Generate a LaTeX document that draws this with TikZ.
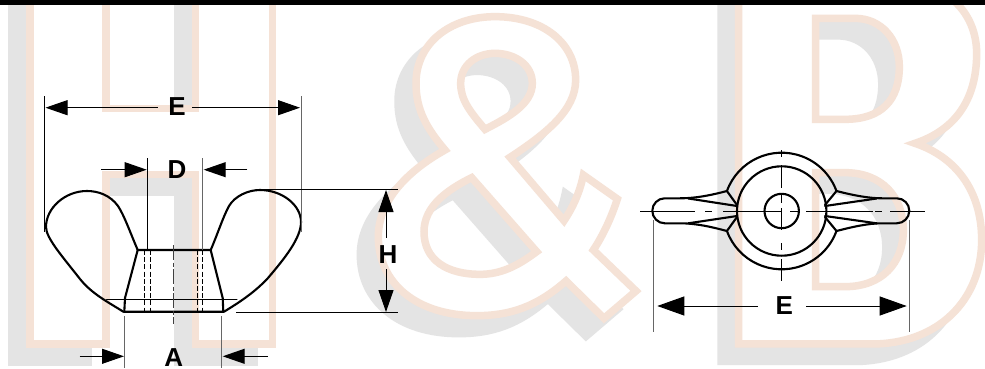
\documentclass[tikz,border=0pt]{standalone}
\usepackage{fontspec}
\setmainfont{Liberation Sans}
\usetikzlibrary{arrows.meta}
\definecolor{wmpeach}{HTML}{F5E2D6}
\definecolor{wmgray}{HTML}{E4E4E4}
\definecolor{extgray}{HTML}{666666}
\def\HOutline{(30,-20) -- (30,344) -- (106,344) -- (106,174.5) -- (195.5,174.5) -- (195.5,344) -- (272.5,344) -- (272.5,-20) -- (195.5,-20) -- (195.5,108.5) -- (106,108.5) -- (106,-20) -- cycle}
\def\AmpOutline{(495,50) .. controls (640,50) and (737,130) .. (737,240) .. controls (737,330) and (650,400) .. (540,472) -- (702,662) .. controls (730,620) and (750,575) .. (760,525) -- (862,597) .. controls (845,650) and (820,705) .. (790,750) -- (918,873) -- (822,955) -- (708,843) .. controls (620,920) and (540,947) .. (440,947) .. controls (260,947) and (145,850) .. (145,710) .. controls (145,610) and (220,520) .. (345,450) .. controls (290,385) and (258,330) .. (258,250) .. controls (258,130) and (360,50) .. (495,50) -- cycle
(465,388) .. controls (420,335) and (392,300) .. (392,250) .. controls (392,195) and (440,160) .. (495,160) .. controls (555,160) and (607,195) .. (607,250) .. controls (607,310) and (540,350) .. (465,388) -- cycle
(425,533) -- (620,755) .. controls (560,800) and (510,823) .. (450,823) .. controls (350,823) and (282,780) .. (282,695) .. controls (282,620) and (350,570) .. (425,533) -- cycle}
\def\BOutline{(251,-60) -- (251,1032) -- (650,1032) .. controls (850,1032) and (980,900) .. (980,720) .. controls (980,570) and (900,470) .. (780,430) .. controls (900,390) and (965,300) .. (965,160) .. controls (965,60) and (900,-60) .. (700,-60) -- cycle
(482,55) -- (600,55) .. controls (680,55) and (733,120) .. (733,200) .. controls (733,300) and (680,358) .. (570,358) -- (482,358) -- cycle
(482,518) -- (570,518) .. controls (680,518) and (745,590) .. (745,690) .. controls (745,790) and (680,860) .. (570,860) -- (482,860) -- cycle}
\tikzset{
  wmshadow/.style={fill=wmgray,draw=wmgray,line width=7.5pt,even odd rule,miter limit=10},
  wmletter/.style={fill=white,draw=wmpeach,line width=7.5pt,even odd rule,miter limit=10},
  part/.style={draw=black,line width=2.1pt,line join=round,line cap=round},
  hiddenline/.style={draw=black,line width=0.9pt,dash pattern=on 5pt off 2.2pt},
  centreline/.style={draw=black,line width=1pt},
  extline/.style={draw=black,line width=1pt},
  extlinegray/.style={draw=extgray,line width=1pt},
  dimarrow/.style={draw=black,line width=1pt,-{Triangle[length=22pt,width=15pt]}},
  bigarrow/.style={draw=black,line width=1pt,-{Triangle[length=27pt,width=19pt]}},
  dimlabel/.style={font=\fontsize{26}{26}\selectfont\bfseries,inner sep=0pt,text=black}
}
\begin{document}
\begin{tikzpicture}[x=1pt,y=-1pt]
\useasboundingbox (0,0) rectangle (985,369);
\fill[white] (0,0) rectangle (985,369);
% watermark: shadows
\begin{scope}
\clip (0,0) rectangle (985,369);
\path[wmshadow,shift={(-18,18)}] \HOutline;
\begin{scope}[shift={(312,18)},scale=1/3]
\path[wmshadow] \AmpOutline;
\end{scope}
\begin{scope}[shift={(637.5,17.5)},scale=1/3]
\path[wmshadow] \BOutline;
\end{scope}
% watermark: letters
\path[wmletter] \HOutline;
\begin{scope}[shift={(330,0)},scale=1/3]
\path[wmletter] \AmpOutline;
\end{scope}
\begin{scope}[shift={(655,0)},scale=1/3]
\path[wmletter] \BOutline;
\end{scope}
\end{scope}
% top bar
\fill[black] (0,0) rectangle (985,4.6);

% ---- side view ----
\path[part] (137.7,250) .. controls (130,232) and (124,215) .. (118,206)
  .. controls (110,195) and (98,191) .. (87,191)
  .. controls (65,191) and (46,208) .. (46,227)
  .. controls (46,238) and (62,256) .. (80,279)
  .. controls (92,294) and (108,302) .. (123.3,311.7)
  -- (224,311.7)
  .. controls (240,302) and (255,292) .. (268,278)
  .. controls (285,258) and (301,238) .. (301,222)
  .. controls (301,205) and (282,190) .. (260,190)
  .. controls (248,190) and (235,196) .. (229,206)
  .. controls (223,217) and (218,233) .. (210.7,250)
  -- cycle;
\path[part] (137.7,250) -- (125,298) -- (124.3,311.7);
\path[part] (210.7,250) -- (222.7,298) -- (223.3,311.7);
\path[part,line width=1.8pt] (106.7,299.5) -- (236.7,299.5);
\coordinate (h1t) at (144.7,250); \coordinate (h1b) at (144.7,311.7);
\coordinate (h2t) at (150.3,250); \coordinate (h2b) at (150.3,311.7);
\coordinate (h3t) at (197,250);   \coordinate (h3b) at (197,311.7);
\coordinate (h4t) at (202.3,250); \coordinate (h4b) at (202.3,311.7);
\draw[hiddenline] (h1t) -- (h1b);
\draw[hiddenline] (h2t) -- (h2b);
\draw[hiddenline] (h3t) -- (h3b);
\draw[hiddenline] (h4t) -- (h4b);
\coordinate (sct) at (173.7,245); \coordinate (scb) at (173.7,324);
\draw[draw=black!75,line width=1pt,dash pattern=on 15pt off 2.5pt on 4pt off 2.5pt] (sct) -- (scb);

% E dimension, side view
\coordinate (eL1) at (44.5,96);  \coordinate (eL2) at (44.5,232);
\coordinate (eR1) at (301,96);   \coordinate (eR2) at (301,232);
\draw[extline] (eL1) -- (eL2);
\draw[extlinegray] (eR1) -- (eR2);
\node[dimlabel] (labE) at (177,106.5) {E};
\coordinate (eA1) at (157.7,107.7); \coordinate (eA1t) at (45.5,107.7);
\coordinate (eA2) at (192,107.7);   \coordinate (eA2t) at (300,107.7);
\draw[dimarrow] (eA1) -- (eA1t);
\draw[dimarrow] (eA2) -- (eA2t);

% D dimension
\coordinate (dL1) at (147.3,158); \coordinate (dL2) at (147.3,250);
\coordinate (dR1) at (202,158);   \coordinate (dR2) at (202,250);
\draw[extline] (dL1) -- (dL2);
\draw[extlinegray] (dR1) -- (dR2);
\node[dimlabel] (labD) at (177,169.5) {D};
\coordinate (dA1) at (101,169.7);   \coordinate (dA1t) at (146.7,169.7);
\coordinate (dA2) at (247.3,169.7); \coordinate (dA2t) at (203.7,169.7);
\draw[dimarrow] (dA1) -- (dA1t);
\draw[dimarrow] (dA2) -- (dA2t);

% A dimension
\coordinate (aL1) at (124.7,316); \coordinate (aL2) at (124.7,368);
\coordinate (aR1) at (221.7,316); \coordinate (aR2) at (221.7,368);
\draw[extlinegray] (aL1) -- (aL2);
\draw[extlinegray] (aR1) -- (aR2);
\node[dimlabel] (labA) at (173.7,357.5) {A};
\coordinate (aA1) at (79.7,356.3);  \coordinate (aA1t) at (124,356.3);
\coordinate (aA2) at (267.7,356.3); \coordinate (aA2t) at (222.7,356.3);
\draw[dimarrow] (aA1) -- (aA1t);
\draw[dimarrow] (aA2) -- (aA2t);

% H dimension
\coordinate (hT1) at (263,189.3);  \coordinate (hT2) at (397.7,189.3);
\coordinate (hB1) at (236,312.7);  \coordinate (hB2) at (397.7,312.7);
\draw[extline] (hT1) -- (hT2);
\draw[extline] (hB1) -- (hB2);
\node[dimlabel] (labH) at (388,254.5) {H};
\coordinate (hA1) at (386,237.7); \coordinate (hA1t) at (386,190);
\coordinate (hA2) at (386,269);   \coordinate (hA2t) at (386,312);
\draw[dimarrow] (hA1) -- (hA1t);
\draw[dimarrow] (hA2) -- (hA2t);

% ---- top view ----
\coordinate (c) at (781.7,211);
\draw[part] (c) circle[radius=44.7];
\draw[part] (c) circle[radius=17.2];
\draw[part] (c) ++(160:58.3) arc[start angle=160,end angle=20,radius=58.3];
\draw[part] (c) ++(200:58.3) arc[start angle=200,end angle=340,radius=58.3];
% right wing
\path[part] (836.5,191) .. controls (852,195) and (868,198.3) .. (882,198.3) -- (896.8,198.3)
  arc[start angle=-90,end angle=90,radius=12.5]
  -- (882,223.3) .. controls (868,223.3) and (852,227) .. (836.5,231);
\path[part] (836.5,191) -- (825,205);
\path[part] (836.5,231) -- (825,217);
\path[part] (825,206) -- (876.7,198.5);
\path[part] (825,216) -- (876.7,223.3);
% left wing
\path[part] (726.9,191) .. controls (712,195) and (696,198.3) .. (680,198.3) -- (664.8,198.3)
  arc[start angle=-90,end angle=-270,radius=12.5]
  -- (680,223.3) .. controls (696,223.3) and (712,227) .. (726.9,231);
\path[part] (726.9,191) -- (737,205);
\path[part] (726.9,231) -- (737,217);
\path[part] (737,206) -- (688.3,198.5);
\path[part] (737,216) -- (688.3,223.3);
% centre lines
\foreach \xa/\xb in {640/695,705/712,723/781.7,790/798,806/873.3,875/881.7,890/925}{
  \draw[centreline] (\xa,211) -- (\xb,211);}
\foreach \ya/\yb in {150/157,165/188,195/203,208/230,243/250,259/281}{
  \draw[centreline] (781.7,\ya) -- (781.7,\yb);}
% E dimension, top view
\coordinate (tL1) at (653.7,220); \coordinate (tL2) at (653.7,331.7);
\coordinate (tR1) at (909,220);   \coordinate (tR2) at (909,331.7);
\draw[extlinegray] (tL1) -- (tL2);
\draw[extlinegray] (tR1) -- (tR2);
\node[dimlabel] (labE2) at (784.3,306) {E};
\coordinate (tA1) at (757.7,306); \coordinate (tA1t) at (657.3,306);
\coordinate (tA2) at (806,306);   \coordinate (tA2t) at (906.7,306);
\draw[bigarrow] (tA1) -- (tA1t);
\draw[bigarrow] (tA2) -- (tA2t);
\end{tikzpicture}
\end{document}
